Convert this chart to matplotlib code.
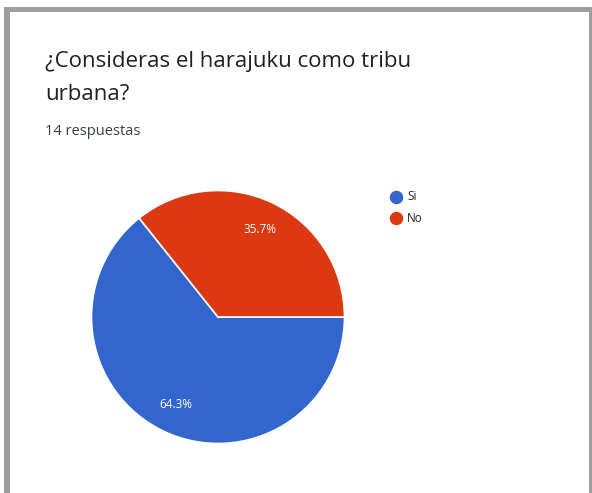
import matplotlib
matplotlib.use("Agg")
import matplotlib.pyplot as plt
from matplotlib.patches import Rectangle

labels = ["Si", "No"]
counts = [9, 5]
colors = ["#3366CC", "#DC3912"]
title_lines = ["¿Consideras el harajuku como tribu", "urbana?"]
subtitle = "14 respuestas"

W, H = 592, 493
fig = plt.figure(figsize=(W / 100, H / 100), dpi=100)
fig.patch.set_facecolor("white")

def fx(px):
    return px / W

def fy(py):
    return 1 - py / H

# card frame
frame = fig.add_axes([0, 0, 1, 1])
frame.set_xlim(0, W)
frame.set_ylim(H, 0)
frame.axis("off")
frame.add_patch(Rectangle((4, 7), 6, H - 7, color="#9e9e9e", lw=0))
frame.add_patch(Rectangle((4, 7), W - 6, 5, color="#9e9e9e", lw=0))
frame.add_patch(Rectangle((589, 7), 3, H - 7, color="#9e9e9e", lw=0))

font = "Open Sans"
frame.text(45, 67, title_lines[0], fontsize=16, color="#202124",
           family=font, va="baseline", ha="left")
frame.text(45, 100, title_lines[1], fontsize=16, color="#202124",
           family=font, va="baseline", ha="left")
frame.text(45, 135, subtitle, fontsize=10.5, color="#3c4043",
           family=font, va="baseline", ha="left")

# pie
cx, cy, r = 218, 317, 126.5
ax = fig.add_axes([fx(cx - r), fy(cy + r), 2 * r / W, 2 * r / H])
ax.pie(counts, colors=colors, startangle=0, counterclock=False,
       autopct="%1.1f%%", pctdistance=0.77,
       wedgeprops=dict(edgecolor="white", linewidth=1.2),
       textprops=dict(color="white", fontsize=8.5, family=font))
ax.set_xlim(-1, 1)
ax.set_ylim(-1, 1)
ax.set_aspect("auto")
ax.axis("off")

# legend
for i, (lab, col) in enumerate(zip(labels, colors)):
    y = 197 + i * 21
    frame.scatter([396], [y], s=75, color=col, zorder=3)
    frame.text(407, y, lab, fontsize=8.5, color="#222222", family=font,
               va="center", ha="left")

fig.savefig("out.png", dpi=100, facecolor="white")
